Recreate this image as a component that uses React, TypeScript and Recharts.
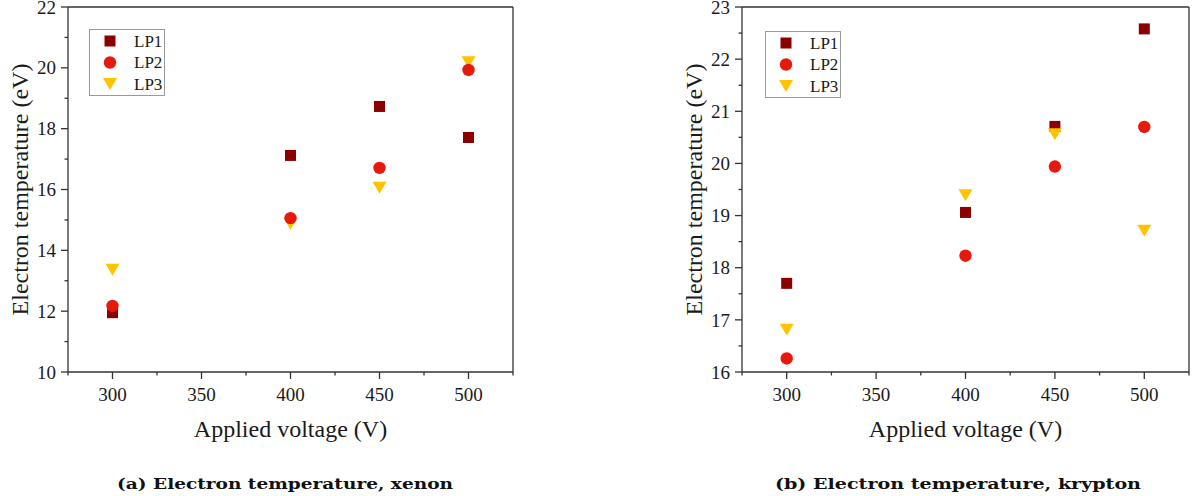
import { ScatterChart, Scatter, XAxis, YAxis } from "recharts";

const voltages = [300, 400, 450, 500];

const xenonLP1 = [11.95, 17.12, 18.73, 17.71];
const xenonLP2 = [12.17, 15.06, 16.71, 19.93];
const xenonLP3 = [13.36, 14.87, 16.06, 20.18];

const kryptonLP1 = [17.7, 19.06, 20.71, 22.58];
const kryptonLP2 = [16.26, 18.23, 19.94, 20.7];
const kryptonLP3 = [16.81, 19.39, 20.56, 18.71];

const seriesNames = ["LP1", "LP2", "LP3"];
const xTicks = [275, 300, 325, 350, 375, 400, 425, 450, 475, 500, 525];
const xMajor = [300, 350, 400, 450, 500];
const xenonYTicks = [10, 11, 12, 13, 14, 15, 16, 17, 18, 19, 20, 21, 22];
const xenonYMajor = [10, 12, 14, 16, 18, 20, 22];
const kryptonYTicks = [16, 16.5, 17, 17.5, 18, 18.5, 19, 19.5, 20, 20.5, 21, 21.5, 22, 22.5, 23];
const kryptonYMajor = [16, 17, 18, 19, 20, 21, 22, 23];

const AXIS = "#333";
const TXT = "#1a1a1a";
const SERIF = "Liberation Serif, Times New Roman, Times, serif";
const colors = ["#8B0000", "#E61A0C", "#FFC300"];
const TOP = 10; // chart is shifted up so the topmost tick label is not clipped

const isIn = (list: number[], v: number) => list.some((m) => Math.abs(m - v) < 1e-6);

function Mark({ kind, cx, cy, color }: { kind: number; cx: number; cy: number; color: string }) {
  if (kind === 0) return <rect x={cx - 5.5} y={cy - 5.5} width={11} height={11} fill={color} />;
  if (kind === 1) return <circle cx={cx} cy={cy} r={6.2} fill={color} />;
  return <polygon points={`${cx - 7},${cy - 6} ${cx + 7},${cy - 6} ${cx},${cy + 6}`} fill={color} />;
}

function Panel({ left, width, yAxisWidth, plotWidth, yDomain, yTicks, yMajor, series, legend, caption }: any) {
  const mk = (vals: number[]) => voltages.map((v, i) => ({ x: v, y: vals[i] }));
  // draw order: LP1, LP3, LP2 (LP2 sits on top in the figure)
  const order = [0, 2, 1];

  const bottomTick = ({ x, y, payload }: any) => {
    const major = isIn(xMajor, payload.value);
    return (
      <g>
        <line x1={x} x2={x} y1={y} y2={y + (major ? 7 : 3.5)} stroke={AXIS} strokeWidth={1.3} />
        {major && (
          <text x={x} y={y + 29} textAnchor="middle" style={{ fontFamily: SERIF, fontSize: 19 }} fill={TXT}>
            {payload.value}
          </text>
        )}
      </g>
    );
  };
  const topTick = ({ x, y, payload }: any) => {
    const major = isIn(xMajor, payload.value);
    return <line x1={x} x2={x} y1={y} y2={y + (major ? 7 : 3.5)} stroke={AXIS} strokeWidth={1.3} />;
  };
  const leftTick = ({ x, y, payload }: any) => {
    const major = isIn(yMajor, payload.value);
    return (
      <g>
        <line x1={x} x2={x - (major ? 7 : 3.5)} y1={y} y2={y} stroke={AXIS} strokeWidth={1.3} />
        {major && (
          <text x={x - 12} y={y} dy="0.35em" textAnchor="end" style={{ fontFamily: SERIF, fontSize: 19 }} fill={TXT}>
            {payload.value}
          </text>
        )}
      </g>
    );
  };
  const rightTick = ({ x, y, payload }: any) => {
    const major = isIn(yMajor, payload.value);
    return <line x1={x} x2={x - (major ? 7 : 3.5)} y1={y} y2={y} stroke={AXIS} strokeWidth={1.3} />;
  };

  return (
    <div style={{ position: "absolute", left, top: 0, width, height: 496 }}>
      <div style={{ position: "absolute", left: 0, top: -TOP }}>
        <ScatterChart width={width} height={475} margin={{ top: 7 + TOP, right: width - yAxisWidth - plotWidth, bottom: 25, left: 0 }}>
          <XAxis
            xAxisId="b"
            type="number"
            dataKey="x"
            domain={[275, 525]}
            ticks={xTicks}
            interval={0}
            height={68}
            tickSize={0}
            tickMargin={0}
            tickLine={false}
            axisLine={{ stroke: AXIS, strokeWidth: 1.3 }}
            tick={bottomTick}
            label={{
              content: ({ viewBox }: any) => (
                <text x={viewBox.x + viewBox.width / 2} y={viewBox.y + 65} textAnchor="middle" style={{ fontFamily: SERIF, fontSize: 24 }} fill={TXT}>
                  Applied voltage (V)
                </text>
              ),
            }}
          />
          <XAxis
            xAxisId="t"
            orientation="top"
            mirror
            type="number"
            dataKey="x"
            domain={[275, 525]}
            ticks={xTicks}
            interval={0}
            tickSize={0}
            tickMargin={0}
            tickLine={false}
            axisLine={{ stroke: AXIS, strokeWidth: 1.3 }}
            tick={topTick}
          />
          <YAxis
            yAxisId="l"
            type="number"
            dataKey="y"
            domain={yDomain}
            ticks={yTicks}
            interval={0}
            width={yAxisWidth}
            tickSize={0}
            tickMargin={0}
            tickLine={false}
            axisLine={{ stroke: AXIS, strokeWidth: 1.3 }}
            tick={leftTick}
            label={{
              content: ({ viewBox }: any) => {
                const cx = viewBox.x + viewBox.width - 48;
                const cy = viewBox.y + viewBox.height / 2;
                return (
                  <text x={cx} y={cy} dy="0.35em" transform={`rotate(-90 ${cx} ${cy})`} textAnchor="middle" style={{ fontFamily: SERIF, fontSize: 24 }} fill={TXT}>
                    Electron temperature (eV)
                  </text>
                );
              },
            }}
          />
          <YAxis
            yAxisId="r"
            orientation="right"
            mirror
            type="number"
            dataKey="y"
            domain={yDomain}
            ticks={yTicks}
            interval={0}
            tickSize={0}
            tickMargin={0}
            tickLine={false}
            axisLine={{ stroke: AXIS, strokeWidth: 1.3 }}
            tick={rightTick}
          />
          {order.map((k) => (
            <Scatter
              key={k}
              name={seriesNames[k]}
              xAxisId="b"
              yAxisId="l"
              data={mk(series[k])}
              isAnimationActive={false}
              shape={(p: any) => <Mark kind={k} cx={p.cx} cy={p.cy} color={colors[k]} />}
            />
          ))}
        </ScatterChart>
      </div>

      <svg style={{ position: "absolute", left: legend.x, top: legend.y }} width={76} height={67}>
        <rect x={0.5} y={0.5} width={75} height={66} fill="#fff" stroke="#9a9a9a" strokeWidth={1} />
        {seriesNames.map((n, i) => (
          <g key={n}>
            <Mark kind={i} cx={21} cy={12 + i * 21.5} color={colors[i]} />
            <text x={45} y={12 + i * 21.5} dy="0.35em" style={{ fontFamily: SERIF, fontSize: 17 }} fill={TXT}>
              {n}
            </text>
          </g>
        ))}
      </svg>

      <svg style={{ position: "absolute", left: caption.x - left, top: 470 }} width={caption.w + 4} height={26}>
        <text x={0} y={19} textLength={caption.w} lengthAdjust="spacingAndGlyphs" style={{ fontFamily: "DejaVu Serif, serif", fontWeight: "bold", fontSize: 15 }} fill="#111">
          {caption.text}
        </text>
      </svg>
    </div>
  );
}

export default function App() {
  return (
    <div style={{ position: "absolute", left: 0, top: 0, width: 1197, height: 496, background: "#fff", overflow: "hidden" }}>
      <Panel
        left={0}
        width={530}
        yAxisWidth={68}
        plotWidth={445}
        yDomain={[10, 22]}
        yTicks={xenonYTicks}
        yMajor={xenonYMajor}
        series={[xenonLP1, xenonLP2, xenonLP3]}
        legend={{ x: 89, y: 29 }}
        caption={{ x: 117, w: 336, text: "(a) Electron temperature, xenon" }}
      />
      <Panel
        left={672}
        width={525}
        yAxisWidth={70}
        plotWidth={447}
        yDomain={[16, 23]}
        yTicks={kryptonYTicks}
        yMajor={kryptonYMajor}
        series={[kryptonLP1, kryptonLP2, kryptonLP3]}
        legend={{ x: 765 - 672, y: 31 }}
        caption={{ x: 775, w: 366, text: "(b) Electron temperature, krypton" }}
      />
    </div>
  );
}
